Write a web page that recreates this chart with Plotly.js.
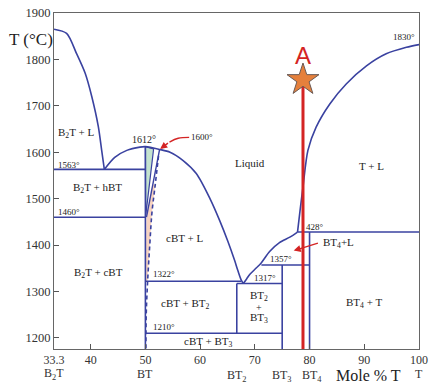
<!DOCTYPE html>
<html><head><meta charset="utf-8">
<script src="https://cdn.plot.ly/plotly-3.0.1.min.js"></script>
<style>html,body{margin:0;padding:0;background:#fff}#plot{width:440px;height:392px}</style>
</head><body><div id="plot"></div>
<script>
// Liquidus curves (composition mol % T, temperature °C)
const leftLiqX = [33.3, 35.6, 37.4, 39.0, 40.2, 41.4, 42.0, 42.5];
const leftLiqT = [1865, 1856, 1813, 1770, 1720, 1655, 1605, 1563];
const domeX = [42.5, 44.4, 46.6, 49.0, 50.0, 52.6, 54.5, 56.9, 59.3, 61.8, 63.6, 65.1, 66.3, 66.9, 67.5, 67.9];
const domeT = [1563, 1589, 1604, 1611, 1612, 1606, 1600, 1582, 1554, 1500, 1452, 1407, 1367, 1345, 1325, 1317];
const bt4LiqX = [67.9, 68.5, 69.1, 70.3, 71.2, 72.7, 74.5, 76.4, 77.8];
const bt4LiqT = [1317, 1327, 1337, 1351, 1362, 1386, 1405, 1417, 1428];
const rightLiqX = [77.8, 78.3, 78.8, 79.7, 81.2, 83.7, 86.7, 90.4, 94.0, 97.7, 100];
const rightLiqT = [1428, 1478, 1525, 1604, 1654, 1704, 1747, 1786, 1812, 1826, 1832];
// Invariant isotherms
const isoT  = [1563, 1460, 1322, 1317, 1210, 1357, 1428];
const isoX0 = [33.3, 33.3, 50, 66.7, 50, 71.2, 77.8];
const isoX1 = [50, 50, 67.5, 75, 75, 80, 100];
// Compound composition lines
const vertX  = [50, 66.7, 75, 80];
const vertT0 = [1176, 1210, 1176, 1176];
const vertT1 = [1612, 1317, 1357, 1428];
// BT solid solution region
const hbtX = [50, 51.5, 50.05, 50];
const hbtT = [1612, 1607, 1462, 1612];
const solidusX = [52.6, 50.2];
const solidusT = [1606, 1460];
const solvusX = [52.4, 51.8, 51.2, 50.8, 50.4, 50.15, 50.1];
const solvusT = [1592, 1530, 1470, 1400, 1320, 1250, 1176];
const cbtX = [50, 50.2, 51.35, 51.8, 51.2, 50.8, 50.4, 50];
const cbtT = [1320, 1460, 1530, 1530, 1470, 1400, 1320, 1320];
// Point A
const pathX = [78.8, 78.8];
const pathT = [1176, 1756];
const starX = [78.8];
const starT = [1756];
// Red pointer for 1600°
const ptrX = [58.0, 56.0, 54.4];
const ptrT = [1632, 1630, 1622];
// Axis ticks and compound names
const xTickVals = [33.3, 40, 50, 60, 70, 80, 90, 100];
const xTickText = ['33.3', '40', '50', '60', '70', '80', '90', '100'];
const yTickVals = [1200, 1300, 1400, 1500, 1600, 1700, 1800, 1900];
const compX = [33.3, 50, 66.7, 75, 80.4, 100];
const compText = ['B<sub>2</sub>T', 'BT', 'BT<sub>2</sub>', 'BT<sub>3</sub>', 'BT<sub>4</sub>', 'T'];
const compY = [-0.074, -0.074, -0.081, -0.081, -0.081, -0.074];

const BLUE = '#3a42a0';
const RED = '#d42424';
const SERIF = 'Liberation Serif, Times New Roman, serif';

const traces = [];
traces.push({x: hbtX, y: hbtT, mode: 'lines', fill: 'toself', fillcolor: '#c4e3cf', line: {color: BLUE, width: 1.2}, hoverinfo: 'skip'});
traces.push({x: cbtX, y: cbtT, mode: 'none', fill: 'toself', fillcolor: '#f7d3c1', hoverinfo: 'skip'});
const curve = (x, y) => ({x, y, mode: 'lines', line: {color: BLUE, width: 1.6, shape: 'spline', smoothing: 0.8}, hoverinfo: 'skip'});
traces.push(curve(leftLiqX, leftLiqT));
traces.push(curve(domeX, domeT));
traces.push(curve(bt4LiqX, bt4LiqT));
traces.push(curve(rightLiqX, rightLiqT));
for (let i = 0; i < isoT.length; i++) {
  traces.push({x: [isoX0[i], isoX1[i]], y: [isoT[i], isoT[i]], mode: 'lines', line: {color: BLUE, width: 1.6}, hoverinfo: 'skip'});
}
for (let i = 0; i < vertX.length; i++) {
  traces.push({x: [vertX[i], vertX[i]], y: [vertT0[i], vertT1[i]], mode: 'lines', line: {color: BLUE, width: 1.6}, hoverinfo: 'skip'});
}
traces.push({x: solidusX, y: solidusT, mode: 'lines', line: {color: BLUE, width: 1.4}, hoverinfo: 'skip'});
traces.push({x: solvusX, y: solvusT, mode: 'lines', line: {color: BLUE, width: 1.6, dash: '4px,3px', shape: 'spline'}, hoverinfo: 'skip'});
traces.push({x: ptrX, y: ptrT, mode: 'lines', line: {color: RED, width: 1.4, shape: 'spline'}, hoverinfo: 'skip'});
traces.push({x: pathX, y: pathT, mode: 'lines', line: {color: RED, width: 3}, hoverinfo: 'skip'});
traces.push({x: starX, y: starT, mode: 'markers', marker: {symbol: 'star', size: 24, color: '#e5803c', line: {color: '#6a5a55', width: 1}}, hoverinfo: 'skip'});

const lab = (x, y, text, size, extra) => Object.assign({x, y, xref: 'x', yref: 'y', text, showarrow: false, xanchor: 'center', yanchor: 'middle', font: {family: SERIF, size: size || 11, color: '#222'}}, extra || {});
const annotations = [
  lab(37.3, 1642, 'B<sub>2</sub>T + L', 11),
  lab(33.7, 1572, '1563°', 9, {xanchor: 'left'}),
  lab(49.7, 1627, '1612°', 10),
  lab(58.0, 1633, '1600°', 9, {xanchor: 'left'}),
  lab(41.3, 1522, 'B<sub>2</sub>T + hBT', 11),
  lab(33.7, 1471, '1460°', 9, {xanchor: 'left'}),
  lab(69.1, 1576, 'Liquid', 11),
  lab(91.3, 1571, 'T + L', 11),
  lab(57.1, 1416, 'cBT + L', 11),
  lab(41.5, 1340, 'B<sub>2</sub>T + cBT', 11),
  lab(51.0, 1337, '1322°', 9, {xanchor: 'left'}),
  lab(57.4, 1274, 'cBT + BT<sub>2</sub>', 11),
  lab(51.0, 1224, '1210°', 9, {xanchor: 'left'}),
  lab(61.5, 1192, 'cBT + BT<sub>3</sub>', 11),
  lab(71.8, 1329, '1317°', 9),
  lab(70.7, 1291, 'BT<sub>2</sub>', 11),
  lab(70.7, 1266, '+', 10),
  lab(70.7, 1243, 'BT<sub>3</sub>', 11),
  lab(74.8, 1371, '1357°', 9),
  lab(81.0, 1439, '428°', 9),
  lab(85.3, 1404, 'BT<sub>4</sub>+L', 11),
  lab(90.0, 1275, 'BT<sub>4</sub> + T', 11),
  lab(97.2, 1849, '1830°', 9),
  lab(78.8, 1808, 'A', 24, {font: {family: 'Liberation Sans, Arial, sans-serif', size: 24, color: RED}}),
  {x: 52.7, y: 1607, ax: 54.4, ay: 1622, xref: 'x', yref: 'y', axref: 'x', ayref: 'y', text: '', showarrow: true, arrowhead: 2, arrowsize: 1, arrowwidth: 1.4, arrowcolor: RED},
  {x: 77.1, y: 1388, ax: 81.8, ay: 1405, xref: 'x', yref: 'y', axref: 'x', ayref: 'y', text: '', showarrow: true, arrowhead: 2, arrowsize: 1, arrowwidth: 1.4, arrowcolor: RED},
  {x: 0.863, y: -0.078, xref: 'paper', yref: 'paper', xanchor: 'center', yanchor: 'middle', text: 'Mole % T', showarrow: false, font: {family: SERIF, size: 16, color: '#222'}},
  {x: -0.063, y: 0.92, xref: 'paper', yref: 'paper', xanchor: 'center', yanchor: 'middle', text: 'T (°C)', showarrow: false, font: {family: SERIF, size: 17, color: '#222'}}
];
for (let i = 0; i < compX.length; i++) {
  annotations.push({x: compX[i], y: compY[i], xref: 'x', yref: 'paper', xanchor: 'center', yanchor: 'middle', text: compText[i], showarrow: false, font: {family: SERIF, size: 12, color: '#333'}});
}

const layout = {
  width: 440, height: 392,
  margin: {l: 54, r: 21, t: 13, b: 43},
  paper_bgcolor: '#fff', plot_bgcolor: '#fff',
  showlegend: false,
  xaxis: {range: [33.3, 100], tickvals: xTickVals, ticktext: xTickText, ticks: 'inside', ticklen: 5, tickcolor: '#555',
          showline: true, mirror: true, linecolor: '#666', linewidth: 1, showgrid: false, zeroline: false,
          tickfont: {family: SERIF, size: 12, color: '#333'}},
  yaxis: {range: [1176, 1900], tickvals: yTickVals, ticks: 'inside', ticklen: 5, tickcolor: '#555',
          showline: true, mirror: true, linecolor: '#666', linewidth: 1, showgrid: false, zeroline: false,
          tickfont: {family: SERIF, size: 12.5, color: '#333'}},
  annotations: annotations
};
Plotly.newPlot('plot', traces, layout, {displayModeBar: false, staticPlot: true});
</script></body></html>
